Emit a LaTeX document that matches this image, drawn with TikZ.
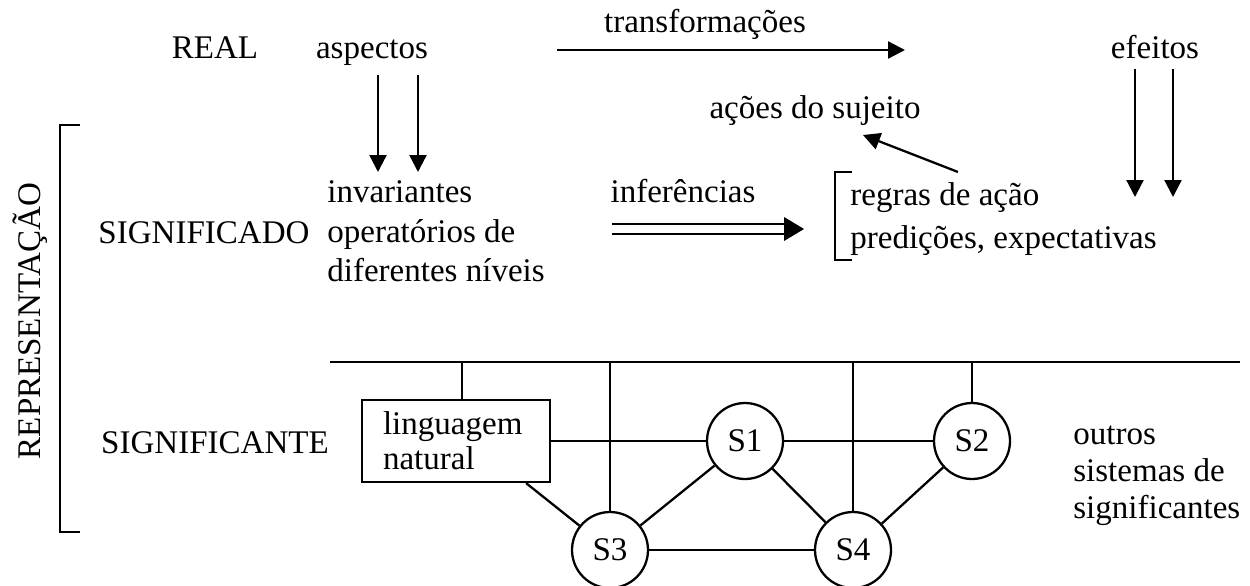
\documentclass[tikz,border=0pt]{standalone}
\usepackage{fontspec}
\setmainfont{Liberation Serif}
\usetikzlibrary{arrows.meta}
\begin{document}
\begin{tikzpicture}[x=0.02cm,y=-0.02cm]
        \tikzstyle{every node}=[font=\fontsize{18.8}{22.5}\selectfont, inner sep=0pt]
        \tikzstyle{seta}=[-{Triangle[length=0.34cm,width=0.34cm]}, line width=1.3pt]
        \tikzstyle{linha}=[line width=1.3pt]
        \tikzstyle{sis}=[draw, circle, minimum size=1.52cm, line width=1.3pt]
        \useasboundingbox (0,0) rectangle (1250,585);

        % linha REAL
        \node[anchor=base] (real) at (215,58) {REAL};
        \node[anchor=base] (asp) at (372,58) {aspectos};
        \node[anchor=base] (transf) at (705,32) {transformações};
        \node[anchor=base] (efe) at (1155,58) {efeitos};
        \node[anchor=base] (acoes) at (815,118) {ações do sujeito};

        % SIGNIFICADO
        \node[anchor=base] (sigdo) at (204,243) {SIGNIFICADO};
        \node[anchor=north west, align=left, font=\fontsize{18.8}{22.7}\selectfont] (inv) at (327,180)
            {invariantes\\operatórios de\\diferentes níveis};
        \node[anchor=base] (infer) at (683,202) {inferências};
        \node[anchor=north west, align=left, font=\fontsize{18.8}{24.4}\selectfont] (regras) at (850,182)
            {regras de ação\\predições, expectativas};

        % SIGNIFICANTE
        \node[anchor=base] (signte) at (215,453) {SIGNIFICANTE};
        \node[draw, linha, minimum width=3.76cm, minimum height=1.64cm, text width=2.92cm,
              align=left, font=\fontsize{18.8}{19.8}\selectfont] (ling) at (456,441)
            {linguagem\\natural};
        \node[sis] (S1) at (745,441) {S1};
        \node[sis] (S2) at (972,441) {S2};
        \node[sis] (S3) at (610,550) {S3};
        \node[sis] (S4) at (853,550) {S4};
        \node[anchor=north west, align=left, font=\fontsize{18.8}{21}\selectfont] (outros) at (1073,426)
            {outros\\sistemas de\\significantes};

        % REPRESENTAÇÃO
        \node[rotate=90] (repr) at (30,321) {REPRESENTAÇÃO};
        \draw[linha] (80,125) -- (60,125) -- (60,532) -- (80,532);
        \draw[linha] (852,172) -- (835,172) -- (835,260) -- (852,260);

        % setas de cima
        \coordinate (tra) at (557,50);
        \coordinate (trb) at (905,50);
        \draw[seta] (tra) -- (trb);
        \draw[seta] ([xshift=0.12cm,yshift=-0.2cm]asp.south) -- ([xshift=0.12cm,yshift=0.16cm]asp.south |- inv.north);
        \draw[seta] ([xshift=0.92cm,yshift=-0.2cm]asp.south) -- ([xshift=0.92cm,yshift=0.16cm]asp.south |- inv.north);
        \coordinate (ef1) at (1135,197);
        \coordinate (ef2) at (1173,197);
        \draw[seta] ([yshift=-0.2cm]efe.south -| ef1) -- (ef1);
        \draw[seta] ([yshift=-0.2cm]efe.south -| ef2) -- (ef2);
        \coordinate (ac) at (958,172);
        \draw[seta] (ac) -- (863,135);

        % inferencias
        \coordinate (infa) at (612,224);
        \coordinate (infb) at (612,234);
        \draw[linha] (infa) -- (786,224);
        \draw[linha] (infb) -- (786,234);
        \fill (784,217) -- (804,229) -- (784,241) -- cycle;

        % significantes
        \coordinate (h1) at (330,362);
        \coordinate (h2) at (1240,362);
        \draw[linha] (h1) -- (h2);
        \coordinate (t1) at (462,362);
        \coordinate (t2) at (610,362);
        \coordinate (t3) at (853,362);
        \coordinate (t4) at (972,362);
        \draw[linha] (t1) -- (t1 |- ling.north);
        \draw[linha] (t2) -- (S3);
        \draw[linha] (t3) -- (S4);
        \draw[linha] (t4) -- (S2);
        \draw[linha] (ling) -- (S1);
        \draw[linha] (S1) -- (S2);
        \draw[linha] (S3) -- (S4);
        \draw[linha] ([xshift=-0.5cm]ling.south east) -- (S3);
        \draw[linha] (S1) -- (S3);
        \draw[linha] (S1) -- (S4);
        \draw[linha] (S2) -- (S4);
\end{tikzpicture}
\end{document}
